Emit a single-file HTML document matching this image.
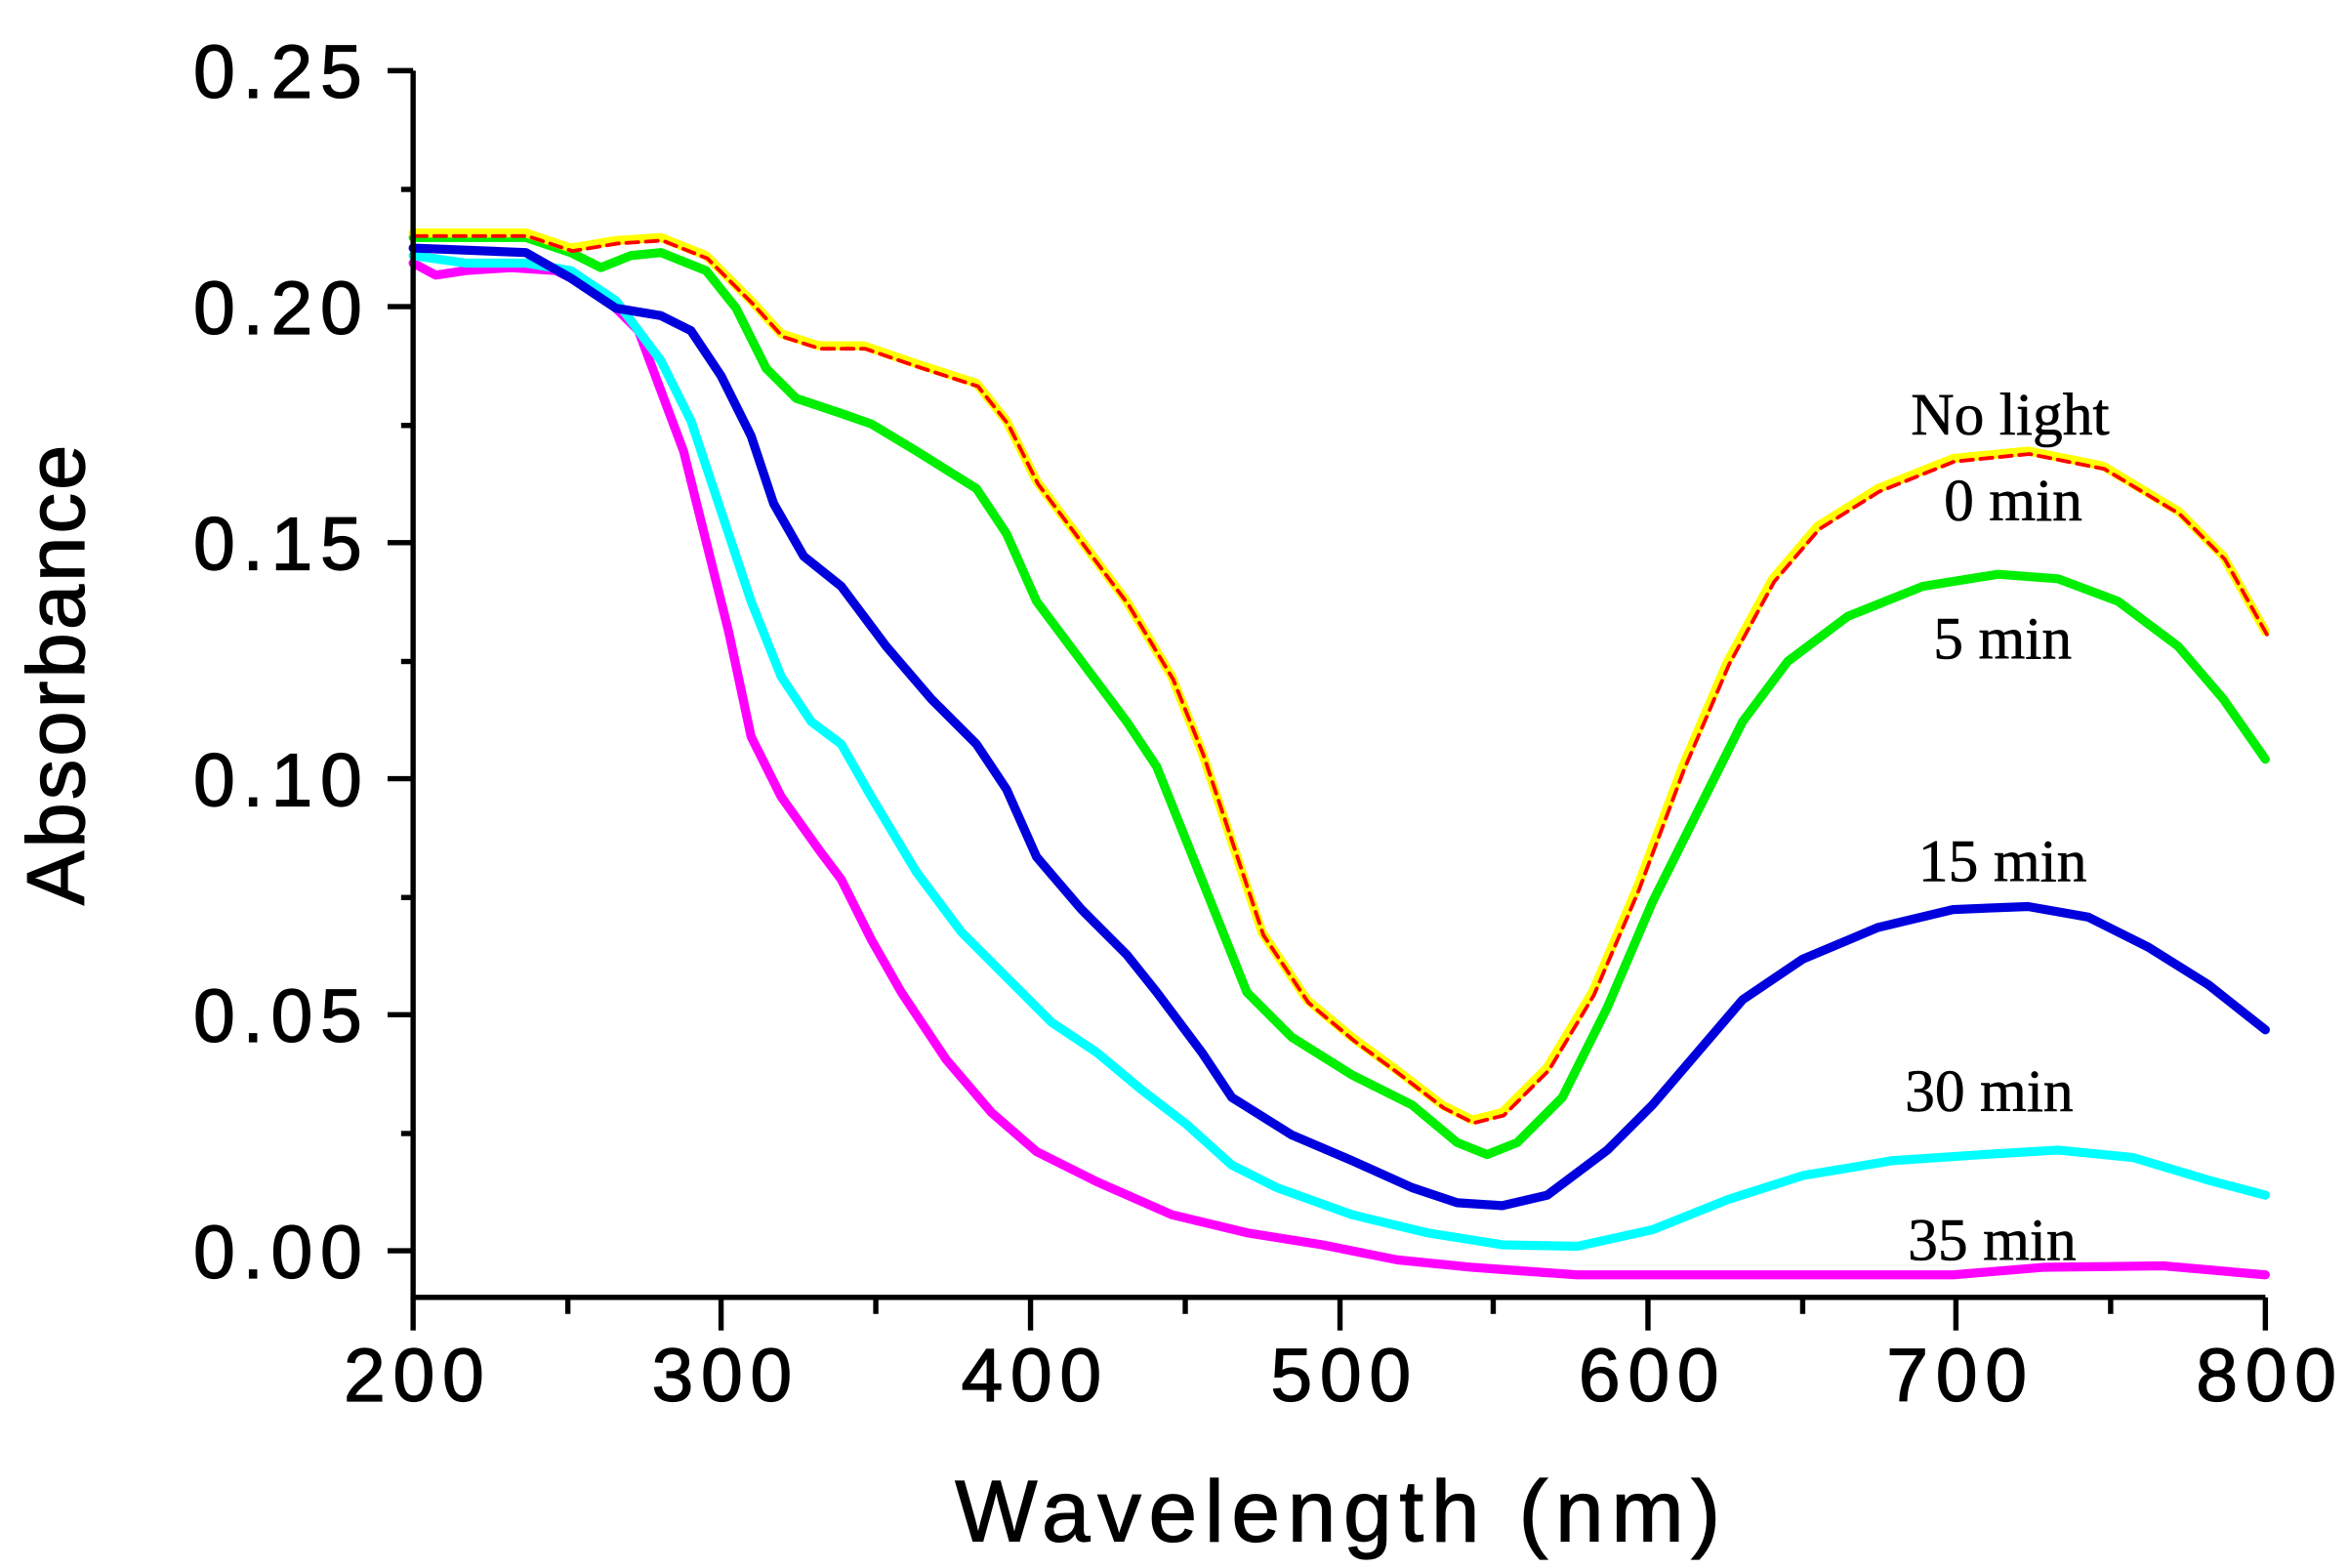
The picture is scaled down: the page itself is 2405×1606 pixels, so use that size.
<!DOCTYPE html>
<html><head><meta charset="utf-8"><style>html,body{margin:0;padding:0;background:#fff;}svg{display:block}</style></head>
<body>
<svg width="2405" height="1606" viewBox="0 0 1563 1043" preserveAspectRatio="none" xmlns="http://www.w3.org/2000/svg">
<rect width="1563" height="1043" fill="#fff"/>
<g fill="none" stroke-linejoin="round" stroke-linecap="round">
<polyline stroke="#ff00ff" stroke-width="6" points="275,175 290,183 310,180 340,178 370,180 400,195 425,220 440,260 455,300 470,360 485,420 500,490 520,530 545,565 560,585 580,625 600,660 630,705 660,740 690,766 730,786 780,808 830,820 880,828 930,838 980,843 1050,848 1150,848 1300,848 1360,843 1440,842 1508,848"/>
<polyline stroke="#00ffff" stroke-width="6" points="275,170 310,175 350,175 380,180 410,200 440,240 460,280 480,340 500,400 520,450 540,480 560,495 580,530 610,580 640,620 670,650 700,680 730,700 760,725 790,748 820,775 850,790 900,808 950,820 1000,828 1050,829 1100,818 1150,798 1200,782 1260,772 1320,768 1370,765 1420,770 1470,785 1508,795"/>
<polyline stroke="#0000dd" stroke-width="6" points="275,165 350,168 380,185 410,205 440,210 460,220 480,250 500,290 515,335 535,370 560,390 590,430 620,465 650,495 670,525 690,570 720,605 750,635 770,660 800,700 820,730 860,755 900,772 940,790 970,800 1000,802 1030,795 1070,765 1100,735 1130,700 1160,665 1200,638 1250,617 1300,605 1350,603 1390,610 1430,630 1470,655 1508,685"/>
<polyline stroke="#00ee00" stroke-width="6" points="275,158 350,158 380,168 400,178 420,170 440,168 470,180 490,205 510,245 530,265 560,275 580,282 610,300 650,325 670,355 690,400 720,440 750,480 770,510 790,560 810,610 830,660 860,690 900,715 940,735 970,760 990,768 1010,760 1040,730 1070,670 1100,600 1130,540 1160,480 1190,440 1230,410 1280,390 1330,382 1370,385 1410,400 1450,430 1480,465 1508,505"/>
<polyline stroke="#ffff00" stroke-width="6" points="275,155 350,155 380,165 410,160 440,158 470,170 500,200 520,222 545,230 575,230 610,242 650,255 670,280 690,320 720,360 750,400 780,450 800,500 820,560 840,620 870,665 900,690 930,712 960,735 980,745 1000,740 1030,710 1060,660 1090,590 1120,510 1150,440 1180,385 1210,350 1250,325 1300,305 1350,300 1400,310 1450,340 1480,370 1508,420"/>
<polyline stroke="#ff0000" stroke-width="2.5" stroke-dasharray="8,5" transform="translate(1,2)" points="275,155 350,155 380,165 410,160 440,158 470,170 500,200 520,222 545,230 575,230 610,242 650,255 670,280 690,320 720,360 750,400 780,450 800,500 820,560 840,620 870,665 900,690 930,712 960,735 980,745 1000,740 1030,710 1060,660 1090,590 1120,510 1150,440 1180,385 1210,350 1250,325 1300,305 1350,300 1400,310 1450,340 1480,370 1508,420"/>
</g>
<g stroke="#000" stroke-width="3.5" fill="none">
<polyline points="275,47 275,863 1508,863"/>
<line x1="258" y1="47" x2="275" y2="47"/><line x1="258" y1="204" x2="275" y2="204"/><line x1="258" y1="361" x2="275" y2="361"/><line x1="258" y1="518" x2="275" y2="518"/><line x1="258" y1="675" x2="275" y2="675"/><line x1="258" y1="832" x2="275" y2="832"/>
<line x1="267" y1="126" x2="275" y2="126"/><line x1="267" y1="283" x2="275" y2="283"/><line x1="267" y1="440" x2="275" y2="440"/><line x1="267" y1="597" x2="275" y2="597"/><line x1="267" y1="754" x2="275" y2="754"/>
<line x1="275" y1="863" x2="275" y2="885"/><line x1="480" y1="863" x2="480" y2="885"/><line x1="686" y1="863" x2="686" y2="885"/><line x1="892" y1="863" x2="892" y2="885"/><line x1="1097" y1="863" x2="1097" y2="885"/><line x1="1302" y1="863" x2="1302" y2="885"/><line x1="1508" y1="863" x2="1508" y2="885"/>
<line x1="378" y1="863" x2="378" y2="874"/><line x1="583" y1="863" x2="583" y2="874"/><line x1="789" y1="863" x2="789" y2="874"/><line x1="994" y1="863" x2="994" y2="874"/><line x1="1200" y1="863" x2="1200" y2="874"/><line x1="1405" y1="863" x2="1405" y2="874"/>
</g>
<g font-family="Liberation Sans, sans-serif" font-size="50" letter-spacing="5" text-anchor="end" fill="#000" stroke="#000" stroke-width="0.8">
<text x="246" y="65">0.25</text><text x="246" y="222">0.20</text><text x="246" y="379">0.15</text><text x="246" y="536">0.10</text><text x="246" y="693">0.05</text><text x="246" y="850">0.00</text>
</g>
<g font-family="Liberation Sans, sans-serif" font-size="50" letter-spacing="5" text-anchor="middle" fill="#000" stroke="#000" stroke-width="0.8">
<text x="278" y="932">200</text><text x="483" y="932">300</text><text x="689" y="932">400</text><text x="895" y="932">500</text><text x="1100" y="932">600</text><text x="1305" y="932">700</text><text x="1511" y="932">800</text>
<text x="893" y="1025" font-size="58" letter-spacing="5">Wavelength (nm)</text>
<text transform="translate(56,448) rotate(-90)" font-size="54" letter-spacing="2">Absorbance</text>
</g>
<g font-family="Liberation Serif, serif" font-size="40" fill="#000" stroke="#000" stroke-width="0.4">
<text x="1272" y="289">No light</text><text x="1294" y="346">0 min</text><text x="1287" y="438">5 min</text><text x="1277" y="586">15 min</text><text x="1268" y="739">30 min</text><text x="1270" y="838">35 min</text>
</g>
</svg>
</body></html>
